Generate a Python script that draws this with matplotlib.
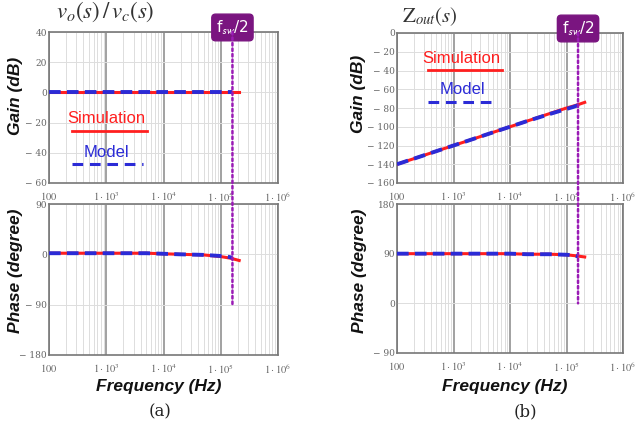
import numpy as np
import matplotlib.pyplot as plt
from matplotlib.patches import ConnectionPatch

# === DATA ===
fsw_half = 1.6e5

freq_sim = [100, 200, 500, 1e3, 2e3, 5e3, 1e4, 2e4, 5e4, 1e5, 1.5e5, 2.1e5]
freq_mod = [100, 200, 500, 1e3, 2e3, 5e3, 1e4, 2e4, 5e4, 1e5, 1.3e5, 1.6e5]

# (a) vo/vc
gain_a_sim = [0.5, 0.5, 0.5, 0.5, 0.5, 0.5, 0.5, 0.5, 0.5, 0.5, 0.5, 0.5]
gain_a_mod = [0.5, 0.5, 0.5, 0.5, 0.5, 0.5, 0.5, 0.5, 0.5, 0.5, 0.5, 0.5]
phase_a_sim = [2, 2, 2, 2, 2, 2, 1, 0, -1, -4, -7, -11]
phase_a_mod = [2, 2, 2, 2, 2, 2, 1, 0, -1, -3, -4, -6]

# (b) Zout
gain_b_sim = [-140, -134, -126, -120, -114, -106, -100, -94, -86, -80, -77, -74]
gain_b_mod = [-140, -134, -126, -120, -114, -106, -100, -94, -86.5, -81, -79, -77]
phase_b_sim = [90, 90, 90, 90, 90, 90, 90, 89, 89, 88, 86, 84]
phase_b_mod = [90, 90, 90, 90, 90, 90, 90, 89, 89, 88, 87, 85]

xticks = [100, 1e3, 1e4, 1e5, 1e6]
xtick_labels = [r"$100$", r"$1\cdot10^{3}$", r"$1\cdot10^{4}$", r"$1\cdot10^{5}$", r"$1\cdot10^{6}$"]

gain_a_ticks = [40, 20, 0, -20, -40, -60]
phase_a_ticks = [90, 0, -90, -180]
gain_b_ticks = [0, -20, -40, -60, -80, -100, -120, -140, -160]
phase_b_ticks = [180, 90, 0, -90]

RED = "#ff1f1f"
BLUE = "#2b2bd6"
PURPLE = "#9a1bb5"
BOX = "#7a1580"

plt.rcParams["mathtext.fontset"] = "stix"


def fmt_tick(v):
    return str(v) if v >= 0 else "\u2212 " + str(-v)


def style_axes(ax, yticks, ylim):
    ax.set_xscale("log")
    ax.set_xlim(100, 1e6)
    ax.set_ylim(*ylim)
    ax.set_xticks(xticks)
    ax.set_xticklabels(xtick_labels)
    ax.set_yticks(yticks)
    ax.set_yticklabels([fmt_tick(v) for v in yticks])
    ax.tick_params(axis="both", which="both", length=0, labelcolor="#666666")
    ax.tick_params(axis="x", pad=5, labelsize=7.5)
    ax.tick_params(axis="y", pad=1.5, labelsize=6.5)
    for lab in ax.get_xticklabels() + ax.get_yticklabels():
        lab.set_family("DejaVu Serif")
    ax.grid(True, which="minor", axis="x", color="#dddddd", lw=0.7)
    ax.grid(True, which="major", axis="x", color="#888888", lw=1.1)
    ax.grid(True, which="major", axis="y", color="#dddddd", lw=0.7)
    for s in ax.spines.values():
        s.set_color("#777777")
        s.set_linewidth(1.2)
    ax.set_axisbelow(True)


def plot_pair(ax, ys, ym):
    ax.plot(freq_sim, ys, color=RED, lw=2.2, zorder=3)
    ax.plot(freq_mod, ym, color=BLUE, lw=2.8, ls=(0, (3, 1.6)), zorder=4)


def legend_text(ax, xs, ys, xm, ym, x0, x1, x1m, ls_, lm_):
    ax.text(xs, ys, "Simulation", color=RED, fontsize=12, transform=ax.transAxes,
            ha="center", va="center", family="Liberation Sans")
    ax.plot([x0, x1], [ls_] * 2, color=RED, lw=2, transform=ax.transAxes)
    ax.text(xm, ym, "Model", color=BLUE, fontsize=12, transform=ax.transAxes,
            ha="center", va="center", family="Liberation Sans")
    ax.plot([x0, x1m], [lm_] * 2, color=BLUE, lw=2.2, ls=(0, (3.5, 2.2)),
            transform=ax.transAxes)


fig = plt.figure(figsize=(6.38, 4.30), dpi=100)

W, H = 638.0, 430.0
def add(x0, y0, x1, y1):
    return fig.add_axes([x0 / W, 1 - y1 / H, (x1 - x0) / W, (y1 - y0) / H])

ax_ga = add(49, 32, 278, 183)
ax_pa = add(49, 204, 278, 355)
ax_gb = add(397, 33, 623, 183)
ax_pb = add(397, 204, 623, 353)

style_axes(ax_ga, gain_a_ticks, (-60, 40))
style_axes(ax_pa, phase_a_ticks, (-180, 90))
style_axes(ax_gb, gain_b_ticks, (-160, 0))
style_axes(ax_pb, phase_b_ticks, (-90, 180))

plot_pair(ax_ga, gain_a_sim, gain_a_mod)
plot_pair(ax_pa, phase_a_sim, phase_a_mod)
plot_pair(ax_gb, gain_b_sim, gain_b_mod)
plot_pair(ax_pb, phase_b_sim, phase_b_mod)

legend_text(ax_ga, 0.25, 0.43, 0.25, 0.20, 0.10, 0.43, 0.41, 0.344, 0.126)
legend_text(ax_gb, 0.283, 0.827, 0.288, 0.62, 0.137, 0.465, 0.44, 0.753, 0.54)

# fsw/2 marker line spanning gain and phase axes
for ax_g, ax_p, ybot in [(ax_ga, ax_pa, -90), (ax_gb, ax_pb, 0)]:
    con = ConnectionPatch(xyA=(fsw_half, ax_g.get_ylim()[1]), coordsA=ax_g.transData,
                          xyB=(fsw_half, ybot), coordsB=ax_p.transData,
                          color=PURPLE, lw=1.8, ls=(0, (1, 1.2)), zorder=5)
    fig.add_artist(con)
    ax_g.text(fsw_half, 1.03, r"f$_{\mathsf{sw}}$/2", transform=ax_g.get_xaxis_transform(),
              ha="center", va="center", color="white", fontsize=11, family="DejaVu Sans",
              bbox=dict(boxstyle="round,pad=0.28,rounding_size=0.25", fc=BOX, ec=BOX),
              zorder=6)

# titles
fig.text(56 / W, 1 - 12 / H, r"$v_o(s)\,/\,v_c(s)$", fontsize=16.5, ha="left", va="center",
         color="#333333")
fig.text(402 / W, 1 - 17 / H, r"$\mathrm{Z}_{out}(s)$", fontsize=15, ha="left", va="center",
         color="#333333")

lab_kw = dict(fontsize=12.5, fontweight="bold", style="italic", family="Liberation Sans",
              color="#111111")
for x, y, t in [(16, 96, "Gain (dB)"), (16, 271, "Phase (degree)"),
                (358, 94, "Gain (dB)"), (360, 271, "Phase (degree)")]:
    fig.text(x / W, 1 - y / H, t, rotation=90, ha="center", va="center", **lab_kw)
for x, xl, t in [(159, 160, "(a)"), (505, 525, "(b)")]:
    fig.text(x / W, 1 - 386 / H, "Frequency (Hz)", ha="center", va="center", **lab_kw)
    fig.text(xl / W, 1 - 412 / H, t, ha="center", va="center", fontsize=12,
             family="DejaVu Serif", color="#222222")

plt.savefig("out.png", dpi=100)
